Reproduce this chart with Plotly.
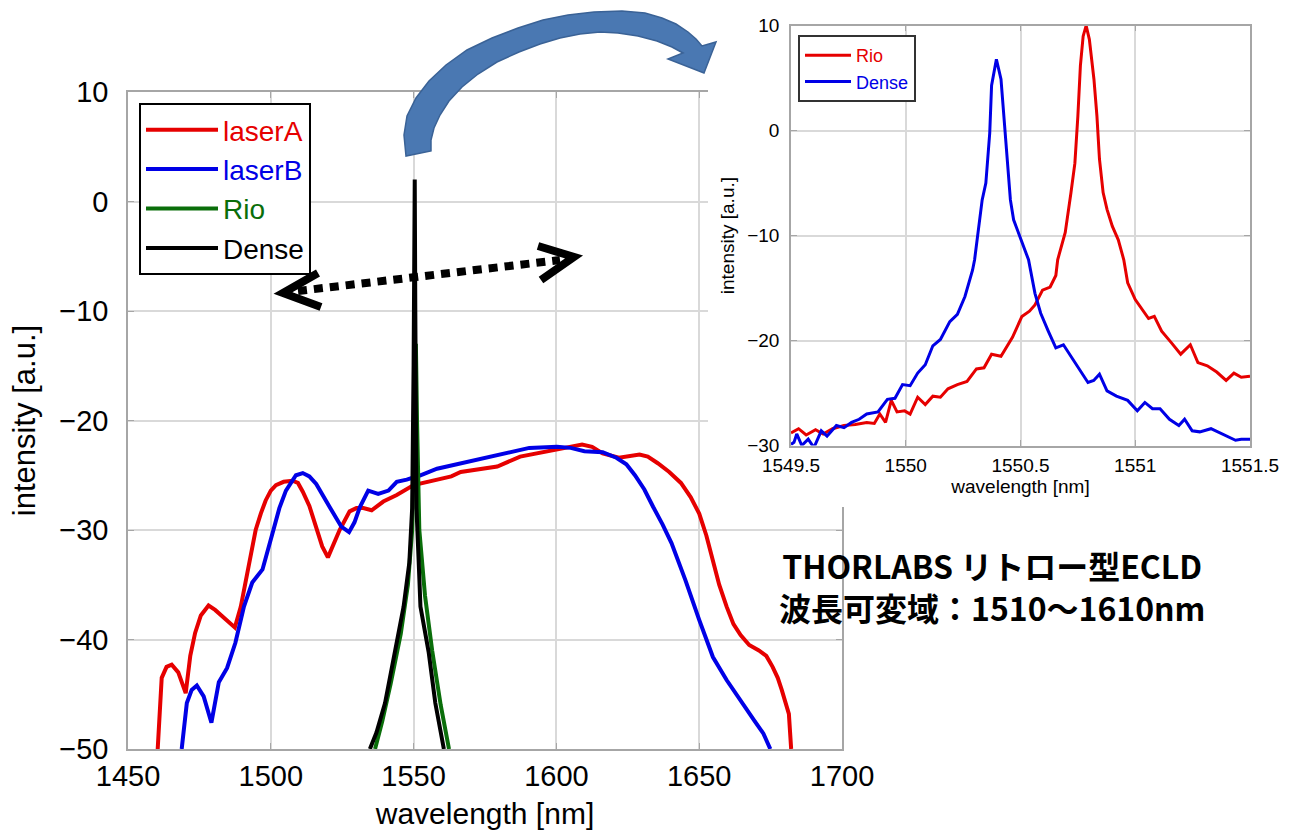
import plotly.graph_objects as go

W, H = 1292, 830

# ---------------- main chart data ----------------
laserA_wl = [1460.4, 1461.8, 1463.5, 1465.3, 1467.6, 1470.2, 1471.8, 1473.5, 1475.5, 1478.2,
             1480.5, 1482.9, 1485.2, 1487.4, 1489.5, 1491.2, 1493.0, 1494.7, 1496.5, 1498.2,
             1500.0, 1501.8, 1504.5, 1507.6, 1509.5, 1511.2, 1513.5, 1515.9, 1518.0, 1520.0,
             1522.0, 1524.1, 1527.6, 1530.0, 1532.4, 1535.3, 1539.4, 1544.1, 1550.0, 1555.9,
             1563.2, 1566.5, 1572.0, 1579.3, 1587.3, 1593.0, 1600.2, 1605.0, 1609.0, 1612.5,
             1616.2, 1621.9, 1626.0, 1629.1, 1632.0, 1635.5, 1639.5, 1643.6, 1647.0, 1650.0,
             1652.5, 1654.8, 1657.0, 1659.6, 1662.0, 1664.5, 1667.5, 1670.9, 1673.5, 1675.7,
             1677.5, 1678.9, 1680.5, 1681.4, 1682.2]
laserA_int = [-50.0, -43.5, -42.5, -42.3, -43.0, -44.9, -41.5, -39.4, -37.8, -36.9,
              -37.3, -37.9, -38.4, -38.9, -37.0, -34.8, -32.3, -30.0, -28.5, -27.3,
              -26.4, -25.9, -25.6, -25.5, -25.7, -26.5, -27.8, -29.7, -31.5, -32.5,
              -31.3, -30.0, -28.3, -28.0, -28.0, -28.2, -27.4, -26.8, -25.9, -25.5,
              -25.1, -24.7, -24.5, -24.2, -23.3, -23.0, -22.6, -22.4, -22.2, -22.4,
              -23.0, -23.4, -23.2, -23.1, -23.3, -23.9, -24.7, -25.7, -27.0, -28.5,
              -30.5, -32.7, -35.0, -37.0, -38.6, -39.6, -40.5, -41.0, -41.5, -42.5,
              -43.5, -44.6, -46.0, -46.8, -50.0]

laserB_wl = [1468.8, 1470.6, 1472.3, 1474.1, 1476.5, 1479.2, 1481.8, 1484.7, 1487.6, 1490.6,
             1493.5, 1497.1, 1500.6, 1503.0, 1505.3, 1508.8, 1511.2, 1513.5, 1515.9, 1518.3,
             1520.6, 1524.7, 1527.4, 1529.3, 1531.2, 1534.1, 1537.6, 1541.2, 1544.1, 1547.6,
             1552.4, 1558.2, 1563.2, 1566.5, 1572.0, 1579.3, 1590.5, 1600.2, 1605.0, 1609.8,
             1616.2, 1621.0, 1624.5, 1627.5, 1630.8, 1633.9, 1637.2, 1640.3, 1645.2, 1650.0,
             1654.8, 1659.6, 1664.5, 1669.3, 1672.5, 1674.9]
laserB_int = [-50.0, -45.8, -44.6, -44.2, -45.2, -47.6, -43.9, -42.6, -40.3, -37.0,
              -34.8, -33.6, -30.3, -28.0, -26.4, -25.0, -24.8, -25.1, -25.8, -26.8,
              -27.9, -29.7, -30.2, -29.3, -27.9, -26.4, -26.7, -26.4, -25.6, -25.4,
              -25.0, -24.4, -24.1, -23.9, -23.6, -23.1, -22.5, -22.4, -22.5, -22.8,
              -22.9, -23.4, -24.0, -25.0, -26.3, -27.9, -29.5, -31.2, -34.6, -38.2,
              -41.6, -43.7, -45.5, -47.4, -48.6, -50.0]

rio_wide_wl = [1536.5, 1539.0, 1542.0, 1545.5, 1548.0, 1549.5, 1550.3, 1550.8, 1551.2, 1552.0,
               1554.0, 1556.5, 1559.5, 1562.4]
rio_wide_int = [-50.0, -47.5, -44.0, -39.5, -35.0, -30.0, -20.0, -13.0, -20.0, -30.0,
                -36.0, -41.0, -46.0, -50.0]

dense_wide_wl = [1534.7, 1537.0, 1540.0, 1543.5, 1546.5, 1548.5, 1549.5, 1550.0, 1550.3, 1550.4,
                 1550.6, 1551.0, 1551.8, 1552.4, 1555.3, 1557.6, 1560.6]
dense_wide_int = [-50.0, -48.5, -45.8, -41.2, -37.0, -33.0, -28.0, -15.0, -1.0, 2.0,
                  -10.0, -28.0, -33.0, -37.0, -41.2, -45.8, -50.0]

main_xticks = [1450, 1500, 1550, 1600, 1650, 1700]
main_yticks = [-50, -40, -30, -20, -10, 0, 10]

# ---------------- inset data ----------------
rio_wl = [1549.500, 1549.533, 1549.566, 1549.607, 1549.640, 1549.681, 1549.731, 1549.780, 1549.830, 1549.863,
          1549.887, 1549.912, 1549.937, 1549.962, 1549.995, 1550.019, 1550.052, 1550.085, 1550.118, 1550.151,
          1550.184, 1550.225, 1550.267, 1550.308, 1550.341, 1550.374, 1550.415, 1550.465, 1550.506, 1550.539,
          1550.563, 1550.596, 1550.629, 1550.654, 1550.662, 1550.695, 1550.720, 1550.737, 1550.750, 1550.761,
          1550.773, 1550.786, 1550.800, 1550.820, 1550.833, 1550.844, 1550.860, 1550.877, 1550.900, 1550.926,
          1550.950, 1550.967, 1551.000, 1551.033, 1551.058, 1551.083, 1551.115, 1551.157, 1551.198, 1551.240,
          1551.273, 1551.314, 1551.355, 1551.396, 1551.430, 1551.462, 1551.500]
rio_int = [-28.8, -28.4, -29.0, -28.5, -28.9, -28.4, -28.1, -28.0, -27.8, -27.9,
           -27.0, -27.8, -25.7, -26.8, -26.7, -27.0, -25.4, -26.1, -25.3, -25.4,
           -24.6, -24.2, -23.9, -22.7, -22.6, -21.3, -21.5, -19.7, -17.7, -17.2,
           -16.6, -15.2, -14.9, -13.8, -12.3, -9.7, -5.9, -3.1, 1.4, 6.2,
           9.0, 10.0, 8.7, 4.9, 1.4, -2.7, -5.9, -7.5, -9.1, -10.4,
           -12.3, -14.5, -16.1, -17.1, -17.9, -17.7, -19.1, -20.2, -21.3, -20.4,
           -22.1, -22.4, -23.0, -23.8, -23.1, -23.5, -23.4]

dense_wl = [1549.500, 1549.513, 1549.525, 1549.547, 1549.575, 1549.600, 1549.632, 1549.657, 1549.698, 1549.731,
            1549.764, 1549.797, 1549.830, 1549.879, 1549.920, 1549.953, 1549.986, 1550.019, 1550.052, 1550.085,
            1550.118, 1550.151, 1550.192, 1550.225, 1550.258, 1550.291, 1550.300, 1550.316, 1550.333, 1550.349,
            1550.366, 1550.374, 1550.395, 1550.415, 1550.432, 1550.443, 1550.456, 1550.470, 1550.490, 1550.514,
            1550.535, 1550.563, 1550.588, 1550.621, 1550.654, 1550.687, 1550.720, 1550.753, 1550.794, 1550.819,
            1550.844, 1550.877, 1550.918, 1550.967, 1551.009, 1551.042, 1551.075, 1551.108, 1551.149, 1551.190,
            1551.215, 1551.248, 1551.281, 1551.330, 1551.380, 1551.437, 1551.462, 1551.500]
dense_int = [-29.9, -29.7, -28.9, -30.0, -29.4, -30.2, -28.6, -29.1, -28.1, -28.3,
             -27.8, -27.5, -27.0, -26.8, -25.6, -25.5, -24.2, -24.3, -23.1, -22.3,
             -20.5, -19.9, -18.2, -17.5, -15.8, -13.3, -12.3, -9.7, -6.6, -5.0,
             -0.2, 4.3, 6.8, 4.9, -0.2, -3.4, -6.6, -8.5, -9.7, -11.0,
             -12.3, -15.5, -17.4, -19.1, -20.7, -20.4, -21.5, -22.6, -24.0, -23.8,
             -23.2, -24.8, -25.3, -25.7, -26.7, -25.9, -26.5, -26.5, -27.5, -28.1,
             -27.5, -28.6, -28.7, -28.4, -28.9, -29.5, -29.4, -29.4]

inset_xticks = [1549.5, 1550, 1550.5, 1551, 1551.5]
inset_xticktext = ["1549.5", "1550", "1550.5", "1551", "1551.5"]
inset_yticks = [-30, -20, -10, 0, 10]

annot_text = "THORLABS リトロー型ECLD<br>波長可変域：1510～1610nm"

RED = "#e60000"
BLUE = "#0000e6"
GREEN = "#0a6e0a"
BLACK = "#000000"

FONT = "Liberation Sans"


def px_x(p):
    return p / W


def px_y(p):
    return 1 - p / H


fig = go.Figure()

main_series = [
    ("laserA", laserA_wl, laserA_int, RED),
    ("laserB", laserB_wl, laserB_int, BLUE),
    ("Rio", rio_wide_wl, rio_wide_int, GREEN),
    ("Dense", dense_wide_wl, dense_wide_int, BLACK),
]
for name, xs, ys, col in main_series:
    fig.add_trace(go.Scatter(
        x=xs, y=ys, mode="lines", line=dict(color=col, width=4),
        name=f"<span style='color:{col}'>{name}</span>",
        xaxis="x", yaxis="y", legend="legend"))

# white cover panel (sits above main plot, below inset)
fig.add_trace(go.Scatter(x=[None], y=[None], xaxis="x2", yaxis="y2",
                         showlegend=False, hoverinfo="skip"))

inset_series = [
    ("Rio", rio_wl, rio_int, RED),
    ("Dense", dense_wl, dense_int, BLUE),
]
for name, xs, ys, col in inset_series:
    fig.add_trace(go.Scatter(
        x=xs, y=ys, mode="lines", line=dict(color=col, width=3),
        name=f"<span style='color:{col}'>{name}</span>",
        xaxis="x3", yaxis="y3", legend="legend2"))

axis_common = dict(showline=True, linecolor="#a6a6a6", linewidth=1.5, mirror="ticks",
                   showgrid=True, gridcolor="#d9d9d9", gridwidth=1.5, automargin=False,
                   ticks="inside", ticklen=6, tickcolor="#a6a6a6", zeroline=False)

fig.update_layout(
    template="none",
    width=W, height=H,
    margin=dict(l=0, r=0, t=0, b=0, autoexpand=False),
    paper_bgcolor="white", plot_bgcolor="white",
    font=dict(family=FONT, color="black"),
    xaxis=dict(domain=[px_x(128), px_x(842)], range=[1450, 1700], anchor="y",
               tickvals=main_xticks, tickfont=dict(size=29), ticklabelstandoff=0,
               title=dict(text="wavelength [nm]", font=dict(size=30), standoff=14),
               **axis_common),
    yaxis=dict(domain=[px_y(749), px_y(92)], range=[-50, 10], anchor="x",
               tickvals=main_yticks, tickfont=dict(size=29), ticklabelstandoff=12,
               title=dict(text="intensity [a.u.]", font=dict(size=31), standoff=14),
               **axis_common),
    xaxis2=dict(domain=[px_x(708), 1.0], range=[0, 1], anchor="y2", visible=False),
    yaxis2=dict(domain=[px_y(507), 1.0], range=[0, 1], anchor="x2", visible=False),
    xaxis3=dict(domain=[px_x(791), px_x(1250)], range=[1549.5, 1551.5], anchor="y3",
                tickvals=inset_xticks, ticktext=inset_xticktext, tickfont=dict(size=19),
                ticklabelstandoff=2,
                title=dict(text="wavelength [nm]", font=dict(size=19), standoff=5),
                **axis_common),
    yaxis3=dict(domain=[px_y(445.5), px_y(25.7)], range=[-30, 10], anchor="x3",
                tickvals=inset_yticks, tickfont=dict(size=19), ticklabelstandoff=6,
                title=dict(text="intensity [a.u.]", font=dict(size=19), standoff=8),
                **axis_common),
    legend=dict(x=px_x(139), y=px_y(103), xanchor="left", yanchor="top",
                bgcolor="white", bordercolor="black", borderwidth=2,
                font=dict(size=28, family=FONT), itemwidth=72, tracegroupgap=0),
    legend2=dict(x=px_x(798), y=px_y(35), xanchor="left", yanchor="top",
                 bgcolor="white", bordercolor="#333333", borderwidth=2,
                 font=dict(size=18, family=FONT), itemwidth=46, tracegroupgap=0),
    showlegend=True,
)


def path_from_px(points):
    s = "M " + " L ".join(f"{px_x(x):.5f},{px_y(y):.5f}" for x, y in points) + " Z"
    return s


# curved block arrow (decoration)
outer = [(406, 156), (404, 135), (407, 116), (416, 98), (429, 81), (446, 65), (467, 50), (492, 38),
         (518, 28), (543, 20), (568, 15), (594, 12), (622, 11), (645, 13), (662, 18), (676, 24),
         (688, 32), (696, 39), (702, 46)]
head = [(716, 42), (704, 73), (668, 59), (683, 53)]
inner = [(672, 47), (657, 41), (638, 36), (618, 33), (600, 32), (580, 34), (560, 38), (540, 44),
         (519, 52), (497, 62), (478, 74), (462, 87), (449, 101), (440, 115), (434, 128), (431, 140),
         (431, 151)]
arrow_pts = outer + head + inner

shapes = [
    dict(type="path", xref="paper", yref="paper", path=path_from_px(arrow_pts),
         fillcolor="#4a78b2", line=dict(color="#3a6296", width=1.5), layer="above"),
    # dotted double arrow
    dict(type="line", xref="paper", yref="paper",
         x0=px_x(298), y0=px_y(291), x1=px_x(560), y1=px_y(260),
         line=dict(color="black", width=8, dash="9px,7px"), layer="above"),
    dict(type="path", xref="paper", yref="paper",
         path=f"M {px_x(318)},{px_y(273)} L {px_x(283)},{px_y(293)} L {px_x(321)},{px_y(307)}",
         line=dict(color="black", width=8), layer="above"),
    dict(type="path", xref="paper", yref="paper",
         path=f"M {px_x(538)},{px_y(246)} L {px_x(574)},{px_y(257)} L {px_x(541)},{px_y(280)}",
         line=dict(color="black", width=8), layer="above"),
]
fig.update_layout(shapes=shapes)

fig.add_annotation(x=px_x(992), y=px_y(586), xref="paper", yref="paper", showarrow=False,
                   text=annot_text, xanchor="center", yanchor="middle", align="center",
                   font=dict(family="Noto Sans CJK JP", size=32, color="black", weight=700))

fig.write_html("out.html")
